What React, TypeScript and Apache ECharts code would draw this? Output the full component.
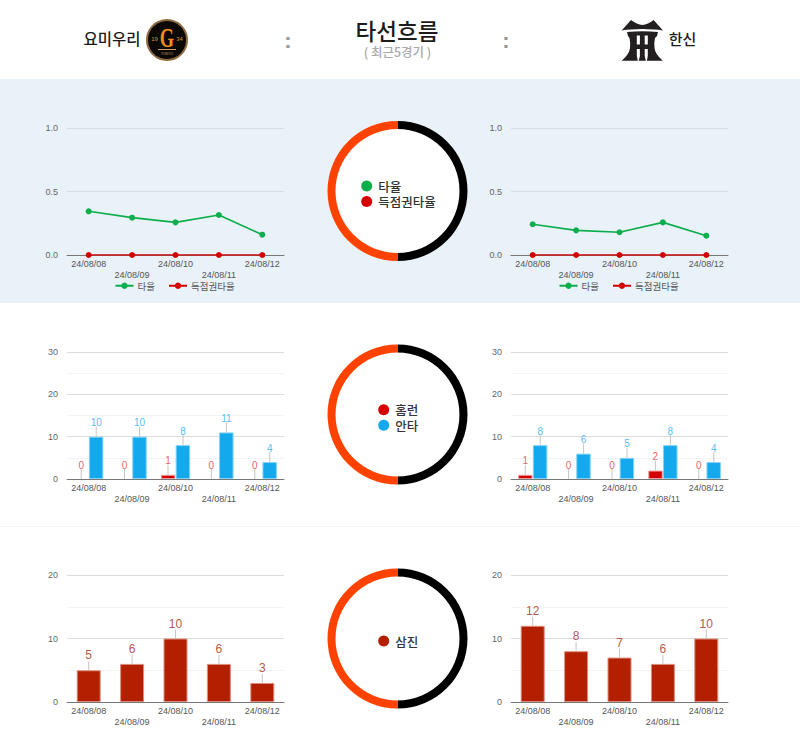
import React, { useEffect, useRef } from "react";
import * as echarts from "echarts";

const dates = ["24/08/08", "24/08/09", "24/08/10", "24/08/11", "24/08/12"];

const giantsAvg = [0.344, 0.294, 0.257, 0.315, 0.16];
const giantsRisp = [0, 0, 0, 0, 0];
const tigersAvg = [0.242, 0.194, 0.179, 0.257, 0.152];
const tigersRisp = [0, 0, 0, 0, 0];

const giantsHr = [0, 0, 1, 0, 0];
const giantsHits = [10, 10, 8, 11, 4];
const tigersHr = [1, 0, 0, 2, 0];
const tigersHits = [8, 6, 5, 8, 4];

const giantsSo = [5, 6, 10, 6, 3];
const tigersSo = [12, 8, 7, 6, 10];

const ringShare = [1, 1];

const AXIS_FONT = "'Liberation Sans', Arial, sans-serif";
const KR_FONT = "'Noto Sans CJK KR', 'Noto Sans', sans-serif";

const GREEN = "#0cae4c";
const RED = "#d40000";
const BLUE = "#14a9ec";
const BRICK = "#b32000";

const COLS = [67, 511];
const GRID_W = 217;
const GRID_H = 127;
const ROWS = [128, 352, 575];

const TIGER_D =
  "M621.7 30.5 L631 20 Q 637 24.5 642.3 25 Q 648 24.5 653.6 20 L663 30.5 Q 655 29 642.3 29 Q 630 29 621.7 30.5 Z " +
  "M627 32 Q 642.3 30.5 658 32 L657 36 L655 38 Q 654 42 654.5 48 Q 655 54 662.8 60.8 L646.9 60.8 " +
  "L647.8 56 L647.8 49 L644.7 49 L644.7 56 L645.8 60.8 L638.8 60.8 L639.9 56 L639.9 49 L636.8 49 L636.8 56 L637.8 60.8 " +
  "L621.7 60.8 Q 629.5 54 630 48 Q 630.5 42 629.5 38 L628 36 Z " +
  "M636.8 35.5 L636.8 44.5 L639.9 44.5 L639.9 35.5 Z M644.7 35.5 L644.7 44.5 L647.8 44.5 L647.8 35.5 Z";
const TigerShape = echarts.graphic.extendPath(TIGER_D, {});
echarts.graphic.registerShape("tigerMark", TigerShape);

function annotations(
  gridIdx: number,
  values: number[],
  offset: number,
  color: string,
  fontSize: number,
  stem: number,
) {
  return {
    type: "custom",
    xAxisIndex: gridIdx,
    yAxisIndex: gridIdx,
    silent: true,
    z: 5,
    clip: false,
    data: values.map((v, i) => [i, v]),
    renderItem: (_p: any, api: any) => {
      const pt = api.coord([api.value(0), api.value(1)]);
      const x = pt[0] + offset;
      return {
        type: "group",
        children: [
          {
            type: "line",
            shape: { x1: x, y1: pt[1], x2: x, y2: pt[1] - stem },
            style: { stroke: "#c4c4c4", lineWidth: 1 },
          },
          {
            type: "text",
            style: {
              text: String(api.value(1)),
              x,
              y: pt[1] - stem - (fontSize - 6),
              align: "center",
              verticalAlign: "middle",
              fill: color,
              fontSize,
              fontFamily: AXIS_FONT,
            },
          },
        ],
      };
    },
  };
}

function lineSeries(gridIdx: number, name: string, values: number[], color: string) {
  return {
    type: "line",
    name,
    xAxisIndex: gridIdx,
    yAxisIndex: gridIdx,
    data: values,
    symbol: "circle",
    symbolSize: 6,
    showSymbol: true,
    itemStyle: { color },
    lineStyle: { color, width: 1.6 },
    z: 4,
  };
}

function barSeries(gridIdx: number, values: number[], color: string, tint: string, width: number) {
  return {
    type: "bar",
    xAxisIndex: gridIdx,
    yAxisIndex: gridIdx,
    data: values.map((v) => ({
      value: v,
      itemStyle: v > 0 ? { borderColor: tint, borderWidth: 1 } : {},
    })),
    barWidth: width,
    barGap: "2%",
    itemStyle: { color },
    z: 3,
  };
}

function ring(cy: number) {
  return {
    type: "pie",
    center: [397.5, cy],
    radius: [62, 70],
    startAngle: 90,
    silent: true,
    label: { show: false },
    labelLine: { show: false },
    data: ringShare.map((v, i) => ({
      value: v,
      itemStyle: { color: i === 0 ? "#000000" : "#ff4200" },
    })),
  };
}

function keyItem(cx: number, cy: number, color: string, label: string) {
  return [
    { type: "circle", shape: { cx, cy, r: 5.5 }, style: { fill: color } },
    {
      type: "text",
      x: cx + 11.5,
      y: cy,
      style: {
        text: label,
        fill: "#333",
        fontSize: 12.5,
        lineHeight: 12.5,
        fontWeight: 500,
        fontFamily: KR_FONT,
        verticalAlign: "middle",
      },
    },
  ];
}

function txt(x: number, y: number, text: string, fontSize: number, fill: string, fontWeight: any = 400, align = "center", family = KR_FONT) {
  return {
    type: "text",
    x,
    y,
    style: { text, fontSize, lineHeight: fontSize, fill, fontWeight, align, verticalAlign: "middle", fontFamily: family },
  };
}

export default function App() {
  const ref = useRef<HTMLDivElement>(null);
  useEffect(() => {
    document.body.style.margin = "0";
    const chart = echarts.init(ref.current!, undefined, { renderer: "svg" });

    const grids: any[] = [];
    const xAxes: any[] = [];
    const yAxes: any[] = [];
    const yConf = [
      { max: 1, interval: 0.5, fmt: (v: number) => v.toFixed(1) },
      { max: 30, interval: 10, fmt: (v: number) => String(v) },
      { max: 20, interval: 10, fmt: (v: number) => String(v) },
    ];
    ROWS.forEach((top, r) => {
      COLS.forEach((left) => {
        const band = r === 0;
        grids.push({ left, top, width: GRID_W, height: GRID_H, containLabel: false });
        const idx = grids.length - 1;
        xAxes.push({
          type: "category",
          gridIndex: idx,
          data: dates,
          axisTick: { show: false },
          axisLine: { lineStyle: { color: "#777", width: 1 } },
          axisLabel: {
            interval: 0,
            hideOverlap: false,
            margin: 3,
            fontSize: 9,
            lineHeight: 11.5,
            color: "#555",
            fontFamily: AXIS_FONT,
            formatter: (v: string, i: number) => (i % 2 === 1 ? "\n" + v : v),
          },
        });
        yAxes.push({
          type: "value",
          gridIndex: idx,
          min: 0,
          max: yConf[r].max,
          interval: yConf[r].interval,
          axisLine: { show: false },
          axisTick: { show: false },
          axisLabel: {
            margin: 9,
            fontSize: 9,
            color: "#666",
            fontFamily: AXIS_FONT,
            formatter: yConf[r].fmt,
          },
          splitLine: { lineStyle: { color: band ? "#d8dde4" : "#dcdcdc", width: 1 } },
          minorTick: { show: false, splitNumber: 2 },
          minorSplitLine: { show: true, lineStyle: { color: band ? "#eef3f9" : "#f3f3f3", width: 1 } },
        });
      });
    });

    const series: any[] = [
      lineSeries(0, "타율", giantsAvg, GREEN),
      lineSeries(0, "득점권타율", giantsRisp, RED),
      lineSeries(1, "타율", tigersAvg, GREEN),
      lineSeries(1, "득점권타율", tigersRisp, RED),

      barSeries(2, giantsHr, RED, "#eea0a0", 14.5),
      barSeries(2, giantsHits, BLUE, "#86d2f6", 14.5),
      barSeries(3, tigersHr, RED, "#eea0a0", 14.5),
      barSeries(3, tigersHits, BLUE, "#86d2f6", 14.5),
      annotations(2, giantsHr, -7.5, "#e8666c", 10, 10),
      annotations(2, giantsHits, 7.5, "#59bdf5", 10, 10),
      annotations(3, tigersHr, -7.5, "#e8666c", 10, 10),
      annotations(3, tigersHits, 7.5, "#59bdf5", 10, 10),

      barSeries(4, giantsSo, BRICK, "#dc8f80", 24),
      barSeries(5, tigersSo, BRICK, "#dc8f80", 24),
      annotations(4, giantsSo, 0, "#b65a4a", 12, 9),
      annotations(5, tigersSo, 0, "#b65a4a", 12, 9),

      ring(191),
      ring(414.5),
      ring(638.5),
    ];

    const legend = [114.5, 558.5].map((left) => ({
      left,
      top: 281,
      padding: 0,
      itemWidth: 18,
      itemHeight: 8,
      itemGap: 13,
      data: ["타율", "득점권타율"],
      selectedMode: false,
      textStyle: { fontSize: 9.5, color: "#555", fontFamily: KR_FONT, padding: [0, 0, 0, -1] },
    }));

    const graphic = [
      { type: "rect", z: -10, silent: true, shape: { x: 0, y: 79, width: 800, height: 224 }, style: { fill: "#e9f1f9" } },
      { type: "circle", z: -9, silent: true, shape: { cx: 397.5, cy: 191, r: 64 }, style: { fill: "#ffffff" } },
      { type: "line", z: -10, silent: true, shape: { x1: 0, y1: 526.5, x2: 800, y2: 526.5 }, style: { stroke: "#f3f3f3", lineWidth: 1 } },
      txt(397, 30, "타선흐름", 22.5, "#1c1c1c", 500),
      txt(397.5, 51.5, "( 최근5경기 )", 12.5, "#a9a9a9", 500),
      txt(112, 38, "요미우리", 15.5, "#1c1c1c", 500),
      txt(682.5, 38, "한신", 15, "#1c1c1c", 500),
      txt(288, 40, ":", 22, "#999", 700, "center", AXIS_FONT),
      txt(506, 40, ":", 22, "#999", 700, "center", AXIS_FONT),
      { type: "circle", shape: { cx: 167, cy: 40, r: 21 }, style: { fill: "#8c6c3f" } },
      { type: "circle", shape: { cx: 167, cy: 40, r: 19 }, style: { fill: "#0b0806" } },
      {
        ...txt(0, 0, "G", 27, "#f08d1e", 700, "center", "'Liberation Serif', serif"),
        x: 167,
        y: 38,
        scaleX: 0.68,
      },
      txt(154.5, 38.5, "19", 6, "#d9913a", 400, "center", AXIS_FONT),
      txt(179.5, 38.5, "34", 6, "#d9913a", 400, "center", AXIS_FONT),
      { type: "line", shape: { x1: 158, y1: 49.5, x2: 176, y2: 49.5 }, style: { stroke: "#c9a070", lineWidth: 1 } },
      txt(167, 53.5, "TOKYO", 3.5, "#c9a070", 400, "center", AXIS_FONT),
      { type: "tigerMark", style: { fill: "#231f20" } },
      ...keyItem(366.7, 186, GREEN, "타율"),
      ...keyItem(366.7, 201.5, RED, "득점권타율"),
      ...keyItem(383.7, 409.7, RED, "홈런"),
      ...keyItem(383.7, 425.3, BLUE, "안타"),
      ...keyItem(383.7, 641, BRICK, "삼진"),
    ];

    chart.setOption({
      animation: false,
      backgroundColor: "#ffffff",
      grid: grids,
      xAxis: xAxes,
      yAxis: yAxes,
      legend,
      series,
      graphic,
    });
    return () => chart.dispose();
  }, []);
  return <div ref={ref} style={{ width: 800, height: 749 }} />;
}
